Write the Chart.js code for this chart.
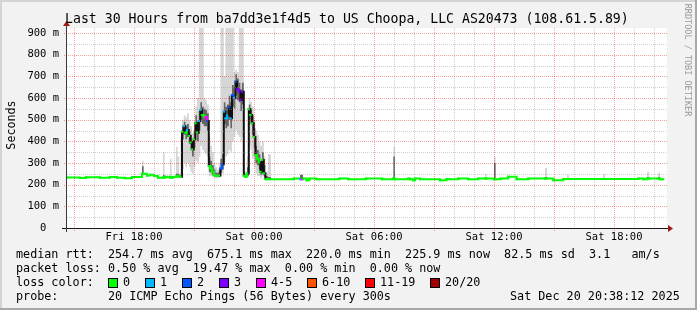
<!DOCTYPE html>
<html>
<head>
<meta charset="utf-8">
<script src="https://cdn.jsdelivr.net/npm/chart.js@4/dist/chart.umd.min.js"></script>
<style>
html,body{margin:0;padding:0;background:#f2f2f2;}
#wrap{position:relative;width:697px;height:310px;background:#f2f2f2;overflow:hidden;font-family:"DejaVu Sans Mono",monospace;color:#000;}
#c{position:absolute;left:0;top:0;}
.t{position:absolute;white-space:pre;font-size:11.75px;line-height:14px;}
.box{position:absolute;width:8px;height:8px;border:1px solid #000;}
#title{position:absolute;left:65px;top:11px;font-size:13.2px;line-height:15px;white-space:pre;}
#ylab{position:absolute;left:11px;top:125px;font-size:11.7px;white-space:pre;transform:translate(-50%,-50%) rotate(-90deg);}
#credit{position:absolute;left:688px;top:60px;font-size:8.5px;color:#9a9a9a;white-space:pre;transform:translate(-50%,-50%) rotate(90deg);}
.fr{position:absolute;}
</style>
</head>
<body>
<div id="wrap">
<canvas id="c" width="697" height="310"></canvas>
<div class="fr" style="left:0;top:0;width:697px;height:2px;background:#d4d4d4"></div>
<div class="fr" style="left:0;top:0;width:2px;height:310px;background:#d4d4d4"></div>
<div class="fr" style="left:0;top:308px;width:697px;height:2px;background:#a8a8a8"></div>
<div class="fr" style="left:695px;top:0;width:2px;height:310px;background:#a8a8a8"></div>
<div id="title"></div>
<div id="ylab">Seconds</div>
<div id="credit">RRDTOOL / TOBI OETIKER</div>
<div id="legend"></div>
</div>
<script>
// ---- data (hours since Fri 00:00; each value holds from its time until the next) ----
const sampleHours = [14.65,15.30,15.60,16.30,16.80,17.15,17.55,17.90,18.40,18.48,18.65,18.80,19.00,19.20,19.45,19.53,19.60,19.80,19.88,19.95,20.10,20.18,20.26,20.32,
 20.40,20.49,20.57,20.65,20.74,20.82,20.90,20.99,21.07,21.15,21.24,21.32,21.40,21.49,21.57,21.65,21.74,21.82,21.90,21.99,22.07,22.15,22.24,22.32,22.40,22.49,
 22.57,22.65,22.74,22.82,22.90,22.99,23.07,23.15,23.24,23.32,23.40,23.49,23.57,23.65,23.74,23.82,23.90,23.99,24.07,24.15,24.24,24.32,24.40,24.49,24.57,24.70,24.85,
 26.00,26.30,26.38,26.45,26.63,26.77,27.13,28.27,28.72,29.60,30.40,30.97,31.05,31.72,31.80,31.97,32.05,32.30,33.30,33.63,33.80,34.22,34.72,35.22,35.55,35.63,
 36.00,36.08,36.33,36.72,37.13,37.72,38.55,38.65,38.97,39.47,39.65,39.75,41.45,41.55,43.22,43.47,43.65,43.75,44.20,44.30,44.45];
const medianRtt = [233,231,234,232,235,232,230,235,250,250,242,246,240,232,233,233,236,232,232,235,238,240,236,236,
 444,470,440,452,425,395,363,410,483,440,494,545,522,515,511,494,286,275,260,245,240,240,242,275,294,537,
 506,520,557,506,614,600,675,640,629,591,629,240,237,252,548,522,483,420,337,320,302,260,314,252,225,225,225,
 228,225,225,228,220,228,225,228,225,228,225,228,225,228,225,220,228,225,220,226,225,228,225,228,228,228,
 225,225,228,237,225,228,228,228,220,226,226,226,226,226,228,225,228,228,228,225,225];
const lossCount = [0,0,0,0,0,0,0,0,0,0,0,0,0,0,0,0,0,0,0,0,0,0,0,0,
 0,1,0,1,0,0,0,0,0,0,1,1,0,0,4,2,0,0,0,0,0,0,0,2,2,1,
 1,1,2,1,2,1,2,3,3,3,3,0,0,0,0,0,0,0,0,0,0,0,0,0,0,0,0,
 0,1,4,0,0,0,0,0,0,0,0,0,0,0,0,0,0,0,0,0,0,0,0,0,0,0,
 0,0,0,0,0,0,0,0,0,0,0,0,0,0,0,0,0,0,0,0,0];
const smokeMin = [233,231,234,232,235,232,230,235,245,250,242,246,240,232,230,233,236,230,232,235,234,236,236,232,
 270,300,280,300,280,260,250,280,310,300,330,380,360,350,340,330,240,240,235,232,230,230,232,240,250,300,
 330,340,360,350,400,420,450,430,420,400,420,232,230,235,380,360,320,280,250,240,240,230,240,228,222,222,225,
 228,222,222,228,220,228,225,228,225,228,225,225,225,228,225,220,228,225,220,226,225,228,225,228,226,228,
 222,225,228,237,225,228,226,228,220,226,224,226,224,226,228,225,226,228,226,225,225];
const smokeMax = [233,231,234,232,235,232,230,235,310,250,242,246,240,232,350,233,236,320,232,235,375,330,236,420,
 500,520,510,530,500,470,440,490,560,600,925,925,925,600,590,570,420,380,350,300,280,270,300,925,925,700,
 925,925,925,925,925,720,730,720,925,925,925,270,260,330,600,580,560,500,450,430,400,380,400,330,260,340,225,
 228,249,249,228,220,228,225,228,225,228,225,375,225,228,225,220,228,225,220,226,225,228,225,228,249,228,
 329,225,228,237,225,228,277,228,220,226,245,226,249,226,228,225,260,228,255,225,225];
const smokeCoreLow = [233,231,234,232,235,232,230,235,247,250,242,246,240,232,232,233,236,232,232,235,236,238,236,234,
 410,430,410,420,390,360,330,370,440,400,450,500,480,470,470,450,260,255,245,238,235,235,236,255,270,480,
 460,470,500,460,560,550,610,590,580,540,570,235,233,240,500,480,430,370,300,290,270,245,280,238,224,224,225,
 228,224,224,228,220,228,225,228,225,228,225,226,225,228,225,220,228,225,220,226,225,228,225,228,227,228,
 224,225,228,237,225,228,227,228,220,226,225,226,225,226,228,225,227,228,227,225,225];
const smokeCoreHigh = [233,231,234,232,235,232,230,235,285,250,242,246,240,232,245,233,236,240,232,235,250,250,236,250,
 470,490,470,480,450,430,400,450,520,490,540,580,560,550,545,530,330,310,290,270,255,255,265,320,340,580,
 560,570,610,580,660,650,710,690,670,640,670,250,245,280,570,550,520,460,380,360,340,300,350,290,240,235,225,
 228,245,245,228,220,228,225,228,225,228,225,330,225,228,225,220,228,225,220,226,225,228,225,228,232,228,
 300,225,228,237,225,228,235,228,220,226,230,226,230,226,228,225,235,228,235,225,225];

const xRange = [14.65, 44.65];
const yMaxMs = 923.08;
const xTickHours = [18, 24, 30, 36, 42];
const xTickLabels = ['Fri 18:00', 'Sat 00:00', 'Sat 06:00', 'Sat 12:00', 'Sat 18:00'];
const yTickValues = [0,100,200,300,400,500,600,700,800,900];
const yTickLabels = ['0  ','100 m','200 m','300 m','400 m','500 m','600 m','700 m','800 m','900 m'];

const lossLabels = ['0','1','2','3','4-5','6-10','11-19','20/20'];
const lossColors = ['#00ff00','#00b8ff','#0059ff','#7e00ff','#ff00ff','#ff5500','#ff0000','#a10000'];

const titleText = 'Last 30 Hours from ba7dd3e1f4d5 to US Choopa, LLC AS20473 (108.61.5.89)';
const rttLine = 'median rtt:  254.7 ms avg  675.1 ms max  220.0 ms min  225.9 ms now  82.5 ms sd  3.1   am/s';
const lossLine = 'packet loss: 0.50 % avg  19.47 % max  0.00 % min  0.00 % now';
const colorLabel = 'loss color:';
const probeLine = 'probe:       20 ICMP Echo Pings (56 Bytes) every 300s';
const stampText = 'Sat Dec 20 20:38:12 2025';

// ---- text (HTML) ----
document.getElementById('title').textContent = titleText;
const lg = document.getElementById('legend');
function txt(s, left, top){const d=document.createElement('div');d.className='t';d.textContent=s;d.style.left=left+'px';d.style.top=top+'px';lg.appendChild(d);return d;}
txt(rttLine, 16, 247);
txt(lossLine, 16, 261);
txt(colorLabel, 16, 275);
const boxX = [108,145,182,219,256,307,365,430];
lossLabels.forEach((l,i)=>{
  const b=document.createElement('div');b.className='box';b.style.left=boxX[i]+'px';b.style.top='278px';b.style.background=lossColors[i];lg.appendChild(b);
  txt(l, boxX[i]+15, 275);
});
txt(probeLine, 16, 289);
txt(stampText, 510, 289);

// ---- chart ----
function lossIndex(n){ if(n<=3) return n; if(n<=5) return 4; if(n<=10) return 5; if(n<20) return 6; return 7; }
const pts = arr => sampleHours.map((h,i)=>({x:h, y:arr[i]}));
const clear = 'rgba(0,0,0,0)';

const rrdFrame = {
  id:'rrdFrame',
  beforeDraw(chart){
    const a=chart.chartArea, c=chart.ctx;
    c.save(); c.fillStyle='#ffffff'; c.fillRect(a.left, a.top, a.right-a.left, a.bottom-a.top); c.restore();
  },
  afterDatasetsDraw(chart){
    const a=chart.chartArea, c=chart.ctx, xs=chart.scales.x, ys=chart.scales.y;
    c.save();
    c.lineWidth=1;
    c.setLineDash([1,1]);
    const major='rgba(230,0,0,0.38)', minor='rgba(150,150,150,0.45)';
    for(let h=Math.ceil(xs.min); h<=xs.max; h++){
      const px=Math.round(xs.getPixelForValue(h))+0.5, mj=(h%3===0);
      c.strokeStyle=mj?major:minor;
      c.beginPath(); c.moveTo(px,a.top); c.lineTo(px,a.bottom+(mj?3:0)); c.stroke();
    }
    for(let v=50; v<ys.max; v+=50){
      const py=Math.round(ys.getPixelForValue(v))+0.5, mj=(v%100===0);
      c.strokeStyle=mj?major:minor;
      c.beginPath(); c.moveTo(a.left-(mj?3:0),py); c.lineTo(a.right,py); c.stroke();
    }
    c.setLineDash([]);
    c.strokeStyle='#1a1a1a';
    c.beginPath(); c.moveTo(a.left-5, a.bottom+0.5); c.lineTo(a.right+2, a.bottom+0.5); c.stroke();
    c.strokeStyle='#3a3a3a';
    c.beginPath(); c.moveTo(a.left-0.5, a.bottom+4); c.lineTo(a.left-0.5, a.top-3); c.stroke();
    c.fillStyle='#a01818';
    c.beginPath(); c.moveTo(a.right+1, a.bottom-3); c.lineTo(a.right+6, a.bottom+0.5); c.lineTo(a.right+1, a.bottom+4); c.closePath(); c.fill();
    c.beginPath(); c.moveTo(a.left-4, a.top-2); c.lineTo(a.left-0.5, a.top-7); c.lineTo(a.left+3, a.top-2); c.closePath(); c.fill();
    c.restore();
  }
};

const monoTick = {family:'DejaVu Sans Mono', size:10.5};
const STEP = 'before'; // Chart.js 'before': value holds from its x until the next point
new Chart(document.getElementById('c'), {
  type:'line',
  data:{datasets:[
    {label:'smoke max', data:pts(smokeMax), stepped:STEP, borderWidth:0, borderColor:clear, pointRadius:0, fill:'+1', backgroundColor:'#d6d6d6', order:5},
    {label:'smoke min', data:pts(smokeMin), stepped:STEP, borderWidth:0, borderColor:clear, pointRadius:0, fill:false, order:5},
    {label:'smoke core max', data:pts(smokeCoreHigh), stepped:STEP, borderWidth:0, borderColor:clear, pointRadius:0, fill:'+1', backgroundColor:'#666666', order:4},
    {label:'smoke core min', data:pts(smokeCoreLow), stepped:STEP, borderWidth:0, borderColor:clear, pointRadius:0, fill:false, order:4},
    {label:'median rtt', data:pts(medianRtt), stepped:STEP, borderWidth:2, pointRadius:0, fill:false, order:1,
      borderColor:'#000',
      segment:{borderColor: ctx => {
        const i=ctx.p0DataIndex, j=ctx.p1DataIndex;
        return Math.abs(medianRtt[j]-medianRtt[i])>20 ? '#111' : lossColors[lossIndex(lossCount[i])];
      }}},
    {label:'loss', data:pts(medianRtt), showLine:false, fill:false, order:0,
      pointStyle:'line', pointRadius:1.2, pointHoverRadius:1.2, pointBorderWidth:2,
      pointBorderColor: ctx => lossColors[lossIndex(lossCount[ctx.dataIndex])],
      pointBackgroundColor: ctx => lossColors[lossIndex(lossCount[ctx.dataIndex])]}
  ]},
  options:{
    responsive:false, animation:false, events:[],
    plugins:{legend:{display:false}, tooltip:{enabled:false}, title:{display:false}},
    layout:{padding:{left:0, right:30, top:28, bottom:62}},
    scales:{
      x:{type:'linear', min:xRange[0], max:xRange[1],
        afterBuildTicks: s => { s.ticks = xTickHours.map(v=>({value:v})); },
        afterFit: s => { s.height = 20; },
        ticks:{callback:(v,i)=>xTickLabels[i], font:monoTick, color:'#000', padding:3, maxRotation:0, minRotation:0, autoSkip:false},
        grid:{display:false, drawTicks:false}, border:{display:false}},
      y:{type:'linear', min:0, max:yMaxMs,
        afterBuildTicks: s => { s.ticks = yTickValues.map(v=>({value:v})); },
        afterFit: s => { s.width = 67; },
        ticks:{callback:(v,i)=>yTickLabels[i], font:monoTick, color:'#000', padding:8, autoSkip:false},
        grid:{display:false, drawTicks:false}, border:{display:false}}
    }
  },
  plugins:[rrdFrame]
});
</script>
</body>
</html>
